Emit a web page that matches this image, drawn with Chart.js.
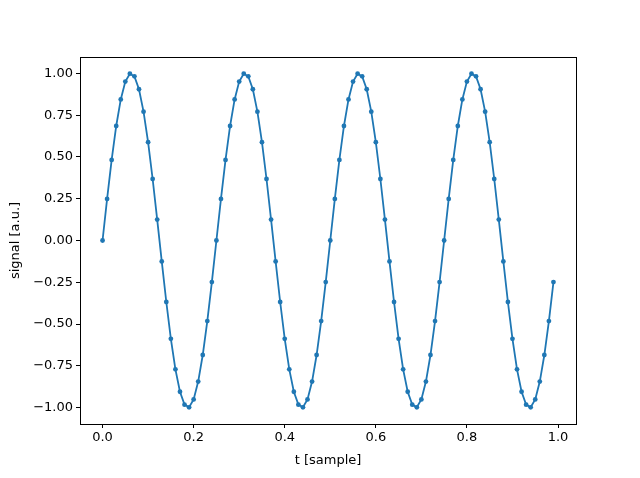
<!DOCTYPE html>
<html>
<head>
<meta charset="utf-8">
<script src="https://cdn.jsdelivr.net/npm/chart.js@4"></script>
<style>
  html, body { margin: 0; padding: 0; background: #fff; }
  #wrap { width: 640px; height: 478px; }
</style>
</head>
<body>
<div id="wrap"><canvas id="sig" width="640" height="478"></canvas></div>
<script>
// temps des échantillons
const tSample = [
  0.00, 0.01, 0.02, 0.03, 0.04, 0.05, 0.06, 0.07, 0.08, 0.09,
  0.10, 0.11, 0.12, 0.13, 0.14, 0.15, 0.16, 0.17, 0.18, 0.19,
  0.20, 0.21, 0.22, 0.23, 0.24, 0.25, 0.26, 0.27, 0.28, 0.29,
  0.30, 0.31, 0.32, 0.33, 0.34, 0.35, 0.36, 0.37, 0.38, 0.39,
  0.40, 0.41, 0.42, 0.43, 0.44, 0.45, 0.46, 0.47, 0.48, 0.49,
  0.50, 0.51, 0.52, 0.53, 0.54, 0.55, 0.56, 0.57, 0.58, 0.59,
  0.60, 0.61, 0.62, 0.63, 0.64, 0.65, 0.66, 0.67, 0.68, 0.69,
  0.70, 0.71, 0.72, 0.73, 0.74, 0.75, 0.76, 0.77, 0.78, 0.79,
  0.80, 0.81, 0.82, 0.83, 0.84, 0.85, 0.86, 0.87, 0.88, 0.89,
  0.90, 0.91, 0.92, 0.93, 0.94, 0.95, 0.96, 0.97, 0.98, 0.99
];

// valeurs
const signal = [
  0.000, 0.249, 0.482, 0.685, 0.844, 0.951, 0.998, 0.982, 0.905, 0.771,
  0.588, 0.368, 0.125, -0.125, -0.368, -0.588, -0.771, -0.905, -0.982, -0.998,
  -0.951, -0.844, -0.685, -0.482, -0.249, 0.000, 0.249, 0.482, 0.685, 0.844,
  0.951, 0.998, 0.982, 0.905, 0.771, 0.588, 0.368, 0.125, -0.125, -0.368,
  -0.588, -0.771, -0.905, -0.982, -0.998, -0.951, -0.844, -0.685, -0.482, -0.249,
  0.000, 0.249, 0.482, 0.685, 0.844, 0.951, 0.998, 0.982, 0.905, 0.771,
  0.588, 0.368, 0.125, -0.125, -0.368, -0.588, -0.771, -0.905, -0.982, -0.998,
  -0.951, -0.844, -0.685, -0.482, -0.249, 0.000, 0.249, 0.482, 0.685, 0.844,
  0.951, 0.998, 0.982, 0.905, 0.771, 0.588, 0.368, 0.125, -0.125, -0.368,
  -0.588, -0.771, -0.905, -0.982, -0.998, -0.951, -0.844, -0.685, -0.482, -0.249
];

const xTicks = [0.0, 0.2, 0.4, 0.6, 0.8, 1.0];
const yTicks = [-1.00, -0.75, -0.50, -0.25, 0.00, 0.25, 0.50, 0.75, 1.00];

const points = tSample.map((t, i) => ({ x: t, y: signal[i] }));

// cadre noir sur les 4 côtés
const frame = {
  id: 'frame',
  afterDraw(chart) {
    const a = chart.chartArea, c = chart.ctx;
    c.save();
    c.strokeStyle = '#000';
    c.lineWidth = 1;
    c.strokeRect(Math.round(a.left) + 0.5, Math.round(a.top) + 0.5,
                 Math.round(a.right - a.left), Math.round(a.bottom - a.top));
    c.restore();
  }
};

const font = { family: 'DejaVu Sans', size: 13 };

new Chart(document.getElementById('sig').getContext('2d'), {
  type: 'line',
  data: {
    datasets: [{
      data: points,
      borderColor: '#1f77b4',
      backgroundColor: '#1f77b4',
      borderWidth: 1.8,
      pointRadius: 2.4,
      pointBorderWidth: 0,
      tension: 0,
      fill: false
    }]
  },
  options: {
    responsive: false,
    animation: false,
    layout: { padding: { top: 57, right: 64, left: 4, bottom: 6 } },
    plugins: { legend: { display: false }, tooltip: { enabled: false } },
    scales: {
      x: {
        type: 'linear',
        min: -0.0495,
        max: 1.0395,
        afterBuildTicks(s) { s.ticks = xTicks.map(v => ({ value: v })); },
        afterFit(s) { s.height = 48; },
        grid: { drawOnChartArea: false, drawTicks: true, tickLength: 4, color: '#000', tickColor: '#000' },
        border: { display: false },
        ticks: {
          color: '#000', font, padding: 2, maxRotation: 0,
          callback: v => v.toFixed(1)
        },
        title: { display: true, text: 't [sample]', color: '#000', font, padding: { top: 2 } }
      },
      y: {
        min: -1.0978,
        max: 1.0978,
        afterBuildTicks(s) { s.ticks = yTicks.map(v => ({ value: v })); },
        afterFit(s) { s.width = 76; },
        grid: { drawOnChartArea: false, drawTicks: true, tickLength: 4, color: '#000', tickColor: '#000' },
        border: { display: false },
        ticks: {
          color: '#000', font, padding: 3,
          callback: v => v.toFixed(2).replace('-', '\u2212')
        },
        title: { display: true, text: 'signal [a.u.]', color: '#000', font, padding: { bottom: 2 } }
      }
    }
  },
  plugins: [frame]
});
</script>
</body>
</html>
